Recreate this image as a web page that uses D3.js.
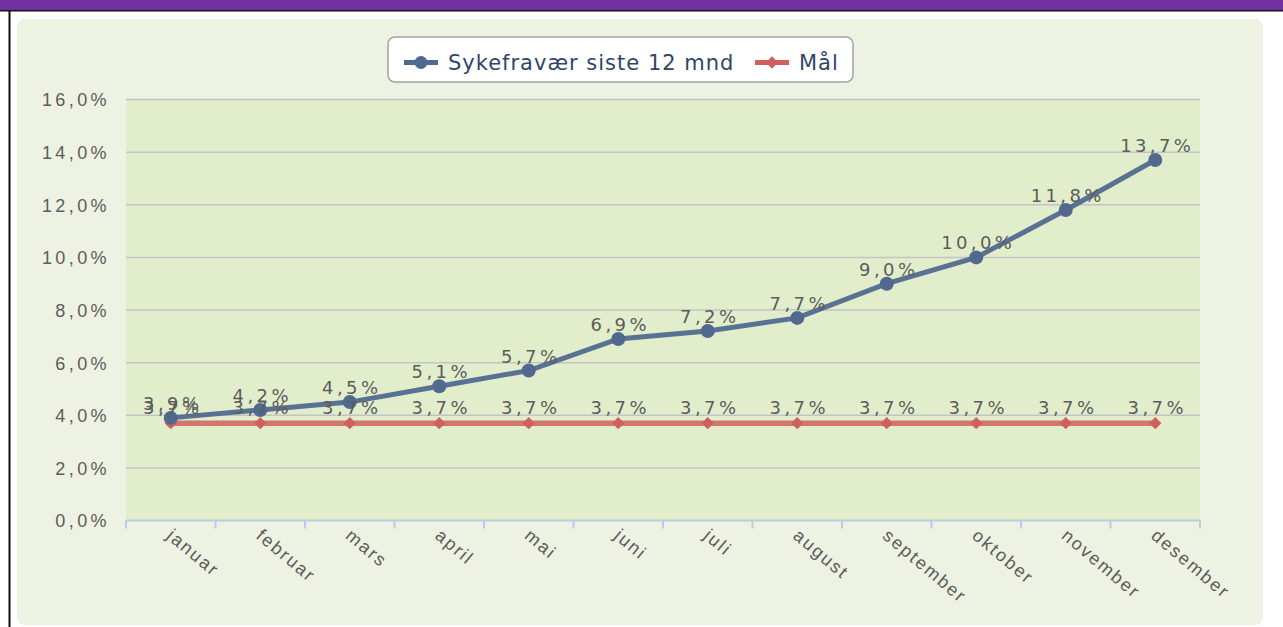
<!DOCTYPE html>
<html>

<head>
    <meta charset="utf-8">
    <title>Sykefravær siste 12 mnd</title>
    <script src="https://d3js.org/d3.v7.min.js"></script>
    <style>
        html,
        body {
            margin: 0;
            padding: 0;
            width: 100%;
            height: 100%;
            overflow: hidden;
            background: #fff;
            font-family: "DejaVu Sans", Verdana, sans-serif;
        }

        #chart {
            display: block;
        }

        .grid line {
            stroke: #c3c3c3;
            stroke-width: 1.5px;
        }

        .axis text,
        .value-label {
            font-size: 18px;
            letter-spacing: 2px;
            fill: #5c5c5c;
        }

        .y-axis text,
        .value-label {
            letter-spacing: 3.4px;
        }

        .legend text {
            font-size: 21px;
            letter-spacing: 1px;
            fill: #2f4668;
        }
    </style>
</head>

<body>
    <svg id="chart"></svg>

    <script>
        // Data
        const months = ["januar", "februar", "mars", "april", "mai", "juni",
            "juli", "august", "september", "oktober", "november", "desember"];
        const sykefravaer = [3.9, 4.2, 4.5, 5.1, 5.7, 6.9, 7.2, 7.7, 9.0, 10.0, 11.8, 13.7];
        const maal = [3.7, 3.7, 3.7, 3.7, 3.7, 3.7, 3.7, 3.7, 3.7, 3.7, 3.7, 3.7];
        const yTicks = [0, 2, 4, 6, 8, 10, 12, 14, 16];
        const seriesNames = ["Sykefravær siste 12 mnd", "Mål"];

        const width = 1283;
        const height = 627;
        const plot = { left: 126, right: 1200, top: 99.5, bottom: 520.5 };

        const blue = "#51698f";
        const red = "#d0605e";

        const fmt = v => v.toFixed(1).replace(".", ",") + "%";

        const svg = d3.select("#chart")
            .attr("width", width)
            .attr("height", height);

        // Ramme rundt (lilla topp, svart kant)
        svg.append("rect")
            .attr("x", 0).attr("y", 0)
            .attr("width", width).attr("height", 10)
            .attr("fill", "#7030a0");
        svg.append("rect")
            .attr("x", 0).attr("y", 10)
            .attr("width", width).attr("height", 1.5)
            .attr("fill", "#111");
        svg.append("rect")
            .attr("x", 8.5).attr("y", 10)
            .attr("width", 2).attr("height", height - 10)
            .attr("fill", "#111");

        // Panel
        svg.append("rect")
            .attr("x", 17).attr("y", 19)
            .attr("width", 1246).attr("height", 606)
            .attr("rx", 8)
            .attr("fill", "#eef2e2");

        // Skalaer
        const x = d3.scaleBand()
            .domain(months)
            .range([plot.left, plot.right]);

        const y = d3.scaleLinear()
            .domain([0, 16])
            .range([plot.bottom, plot.top]);

        const cx = (d, i) => x(months[i]) + x.bandwidth() / 2;

        // Plotområde
        svg.append("rect")
            .attr("x", plot.left).attr("y", plot.top)
            .attr("width", plot.right - plot.left)
            .attr("height", plot.bottom - plot.top)
            .attr("fill", "#e2eecb");

        // Rutenett
        svg.append("g")
            .attr("class", "grid")
            .selectAll("line")
            .data(yTicks.filter(d => d > 0))
            .enter().append("line")
            .attr("x1", plot.left)
            .attr("x2", plot.right)
            .attr("y1", d => y(d))
            .attr("y2", d => y(d));

        // Y-akse
        const yAxis = svg.append("g")
            .attr("class", "axis y-axis")
            .attr("transform", `translate(${plot.left},0)`)
            .call(d3.axisLeft(y).tickValues(yTicks).tickFormat(fmt).tickSize(0).tickPadding(16));
        yAxis.select(".domain").remove();
        yAxis.selectAll("text").attr("dy", "0.36em");

        // X-akse
        svg.append("line")
            .attr("x1", plot.left).attr("x2", plot.right)
            .attr("y1", plot.bottom).attr("y2", plot.bottom)
            .attr("stroke", "#b9cce3")
            .attr("stroke-width", 2);

        const boundaries = months.map(m => x(m)).concat([plot.right]);
        svg.append("g")
            .selectAll("line")
            .data(boundaries)
            .enter().append("line")
            .attr("x1", d => d).attr("x2", d => d)
            .attr("y1", plot.bottom).attr("y2", plot.bottom + 8)
            .attr("stroke", "#b9cce3")
            .attr("stroke-width", 2);

        const xAxis = svg.append("g")
            .attr("class", "axis")
            .attr("transform", `translate(0,${plot.bottom})`)
            .call(d3.axisBottom(x).tickSize(0).tickPadding(0));
        xAxis.select(".domain").remove();
        xAxis.selectAll("text")
            .attr("text-anchor", "start")
            .attr("x", 0)
            .attr("y", 0)
            .attr("dy", "0.8em")
            .attr("transform", "translate(4,6) rotate(40)");

        // Linjer
        const line = d3.line()
            .x(cx)
            .y(d => y(d));

        svg.append("path")
            .datum(maal)
            .attr("fill", "none")
            .attr("stroke", red)
            .attr("stroke-opacity", 0.85)
            .attr("stroke-width", 5.5)
            .attr("d", line);

        svg.append("path")
            .datum(sykefravaer)
            .attr("fill", "none")
            .attr("stroke", blue)
            .attr("stroke-opacity", 0.95)
            .attr("stroke-width", 5)
            .attr("d", line);

        // Markører
        const diamond = d3.symbol().type(d3.symbolSquare).size(76);

        svg.append("g")
            .selectAll("path")
            .data(maal)
            .enter().append("path")
            .attr("d", diamond)
            .attr("transform", (d, i) => `translate(${cx(d, i)},${y(d)}) rotate(45)`)
            .attr("fill", red);

        svg.append("g")
            .selectAll("circle")
            .data(sykefravaer)
            .enter().append("circle")
            .attr("cx", cx)
            .attr("cy", d => y(d))
            .attr("r", 7)
            .attr("fill", blue);

        // Verdietiketter
        svg.append("g")
            .selectAll("text")
            .data(maal)
            .enter().append("text")
            .attr("class", "value-label")
            .attr("text-anchor", "middle")
            .attr("x", (d, i) => cx(d, i) + 2)
            .attr("y", d => y(d) - 9)
            .text(fmt);

        svg.append("g")
            .selectAll("text")
            .data(sykefravaer)
            .enter().append("text")
            .attr("class", "value-label")
            .attr("text-anchor", "middle")
            .attr("x", (d, i) => cx(d, i) + 2)
            .attr("y", d => y(d) - 8)
            .text(fmt);

        // Tegnforklaring
        const legend = svg.append("g").attr("class", "legend");
        legend.append("rect")
            .attr("x", 388).attr("y", 37)
            .attr("width", 465).attr("height", 45)
            .attr("rx", 7)
            .attr("fill", "#fff")
            .attr("stroke", "#a3a3a3")
            .attr("stroke-width", 1.5);

        const legendItems = [
            { name: seriesNames[0], color: blue, x: 404, marker: "circle" },
            { name: seriesNames[1], color: red, x: 755, marker: "diamond" }
        ];

        legendItems.forEach(it => {
            legend.append("line")
                .attr("x1", it.x).attr("x2", it.x + 34)
                .attr("y1", 62.5).attr("y2", 62.5)
                .attr("stroke", it.color)
                .attr("stroke-width", 5);
            if (it.marker === "circle") {
                legend.append("circle")
                    .attr("cx", it.x + 17).attr("cy", 62.5)
                    .attr("r", 6.5)
                    .attr("fill", it.color);
            } else {
                legend.append("path")
                    .attr("d", diamond)
                    .attr("transform", `translate(${it.x + 17},62.5) rotate(45)`)
                    .attr("fill", it.color);
            }
            legend.append("text")
                .attr("x", it.x + 44)
                .attr("y", 62.5)
                .attr("dy", "0.36em")
                .text(it.name);
        });
    </script>
</body>

</html>
